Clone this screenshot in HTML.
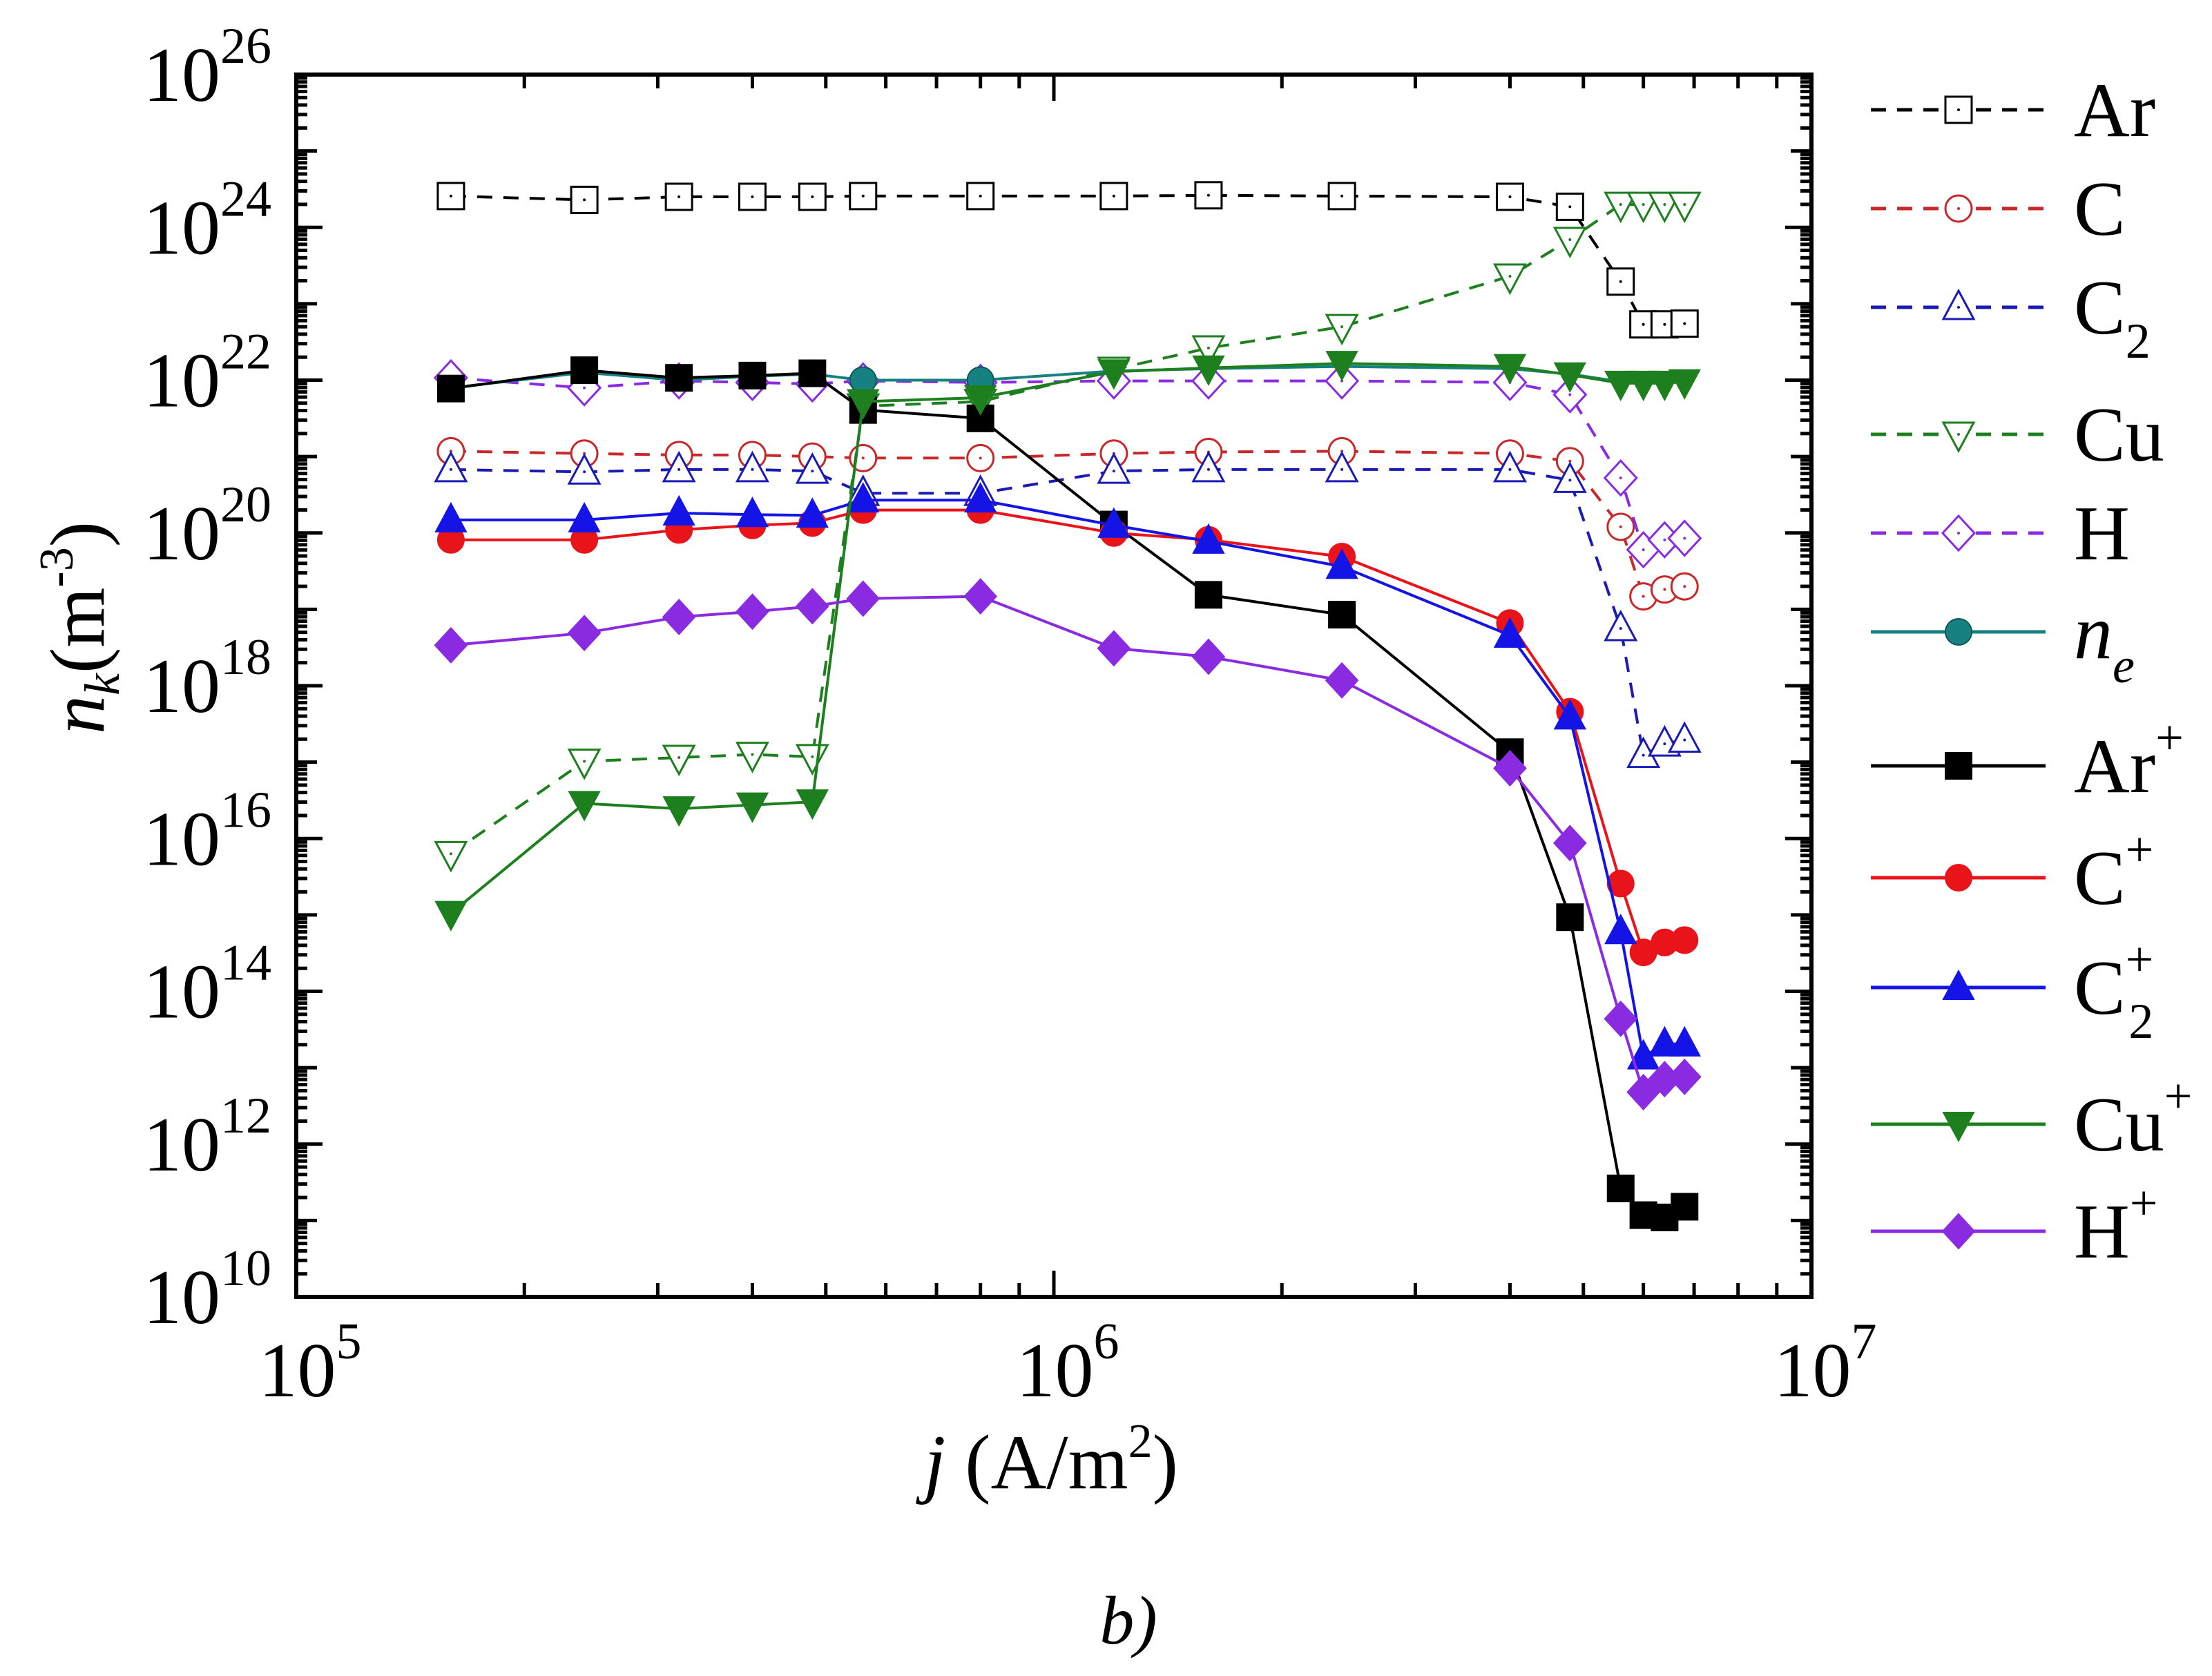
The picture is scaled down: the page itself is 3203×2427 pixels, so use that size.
<!DOCTYPE html>
<html><head><meta charset="utf-8"><style>
html,body{margin:0;padding:0;background:#fff;}
svg{display:block;font-family:"Liberation Serif",serif;}
</style></head><body>
<svg id="chart" width="3203" height="2427" viewBox="0 0 3203 2427" xmlns="http://www.w3.org/2000/svg">
<rect width="3203" height="2427" fill="#fff"/>
<g id="marks"></g>
<g id="axes"></g>
<g id="legend"></g>
<text transform="translate(150,909) rotate(-90)" text-anchor="middle" font-size="112"><tspan font-style="italic">n</tspan><tspan font-style="italic" font-size="72" dy="22">k</tspan><tspan dy="-22">(m</tspan><tspan font-size="70" dy="-45">-3</tspan><tspan dy="45">)</tspan></text>
<text x="1522" y="2155" text-anchor="middle" font-size="112"><tspan font-style="italic">j</tspan> (A/m<tspan font-size="70" dy="-45">2</tspan><tspan dy="45">)</tspan></text>
<text x="1634" y="2380" text-anchor="middle" font-size="100" font-style="italic">b)</text>
</svg>
<script>
const jValues = [1.6e5,2.4e5,3.2e5,4e5,4.8e5,5.6e5,8e5,1.2e6,1.6e6,2.4e6,4e6,4.8e6,5.6e6,6e6,6.4e6,6.8e6];
const logAr  = [24.41,24.36,24.40,24.40,24.40,24.41,24.41,24.41,24.42,24.41,24.40,24.27,23.29,22.73,22.73,22.74];
const logC   = [21.07,21.04,21.02,21.02,21.00,20.98,20.98,21.04,21.06,21.07,21.04,20.94,20.08,19.17,19.26,19.30];
const logC2  = [20.83,20.80,20.83,20.83,20.81,20.52,20.52,20.81,20.83,20.83,20.83,20.69,18.75,17.09,17.24,17.29];
const logCu  = [15.80,17.01,17.06,17.10,17.07,21.66,21.72,22.14,22.42,22.70,23.36,23.84,24.30,24.30,24.30,24.30];
const logH   = [22.03,21.90,21.99,21.97,21.95,21.99,21.97,21.99,21.99,21.99,21.97,21.81,20.72,19.78,19.91,19.93];
const logNe  = [21.90,22.10,22.00,22.05,22.08,22.00,22.00,22.12,22.15,22.18,22.15,22.08,21.98,21.98,21.98,21.99];
const logArp = [21.89,22.13,22.03,22.06,22.09,21.61,21.50,20.11,19.19,18.93,17.13,14.97,11.42,11.07,11.04,11.18];
const logCp  = [19.91,19.91,20.04,20.10,20.13,20.30,20.30,20.00,19.91,19.69,18.82,17.66,15.41,14.51,14.64,14.67];
const logC2p = [20.17,20.17,20.26,20.24,20.23,20.43,20.43,20.10,19.89,19.56,18.66,17.59,14.78,13.14,13.31,13.31];
const logCup = [15.02,16.46,16.39,16.44,16.48,21.72,21.77,22.11,22.16,22.22,22.18,22.07,21.96,21.96,21.96,21.98];
const logHp  = [18.53,18.69,18.90,18.97,19.04,19.14,19.17,18.49,18.38,18.07,16.92,15.94,13.64,12.68,12.85,12.88];
const yTickExps = [26,24,22,20,18,16,14,12,10];
const xTickExps = [5,6,7];

const L=429,R=2623,T=108,B=1878;
const xs = v => L + (Math.log10(v)-5)/2*(R-L);
const ys = lg => B - (lg-10)/16*(B-T);
const NS="http://www.w3.org/2000/svg";
function mk(tag,attrs,parent){const e=document.createElementNS(NS,tag);for(const k in attrs)e.setAttribute(k,attrs[k]);parent.appendChild(e);return e;}

const series=[
 {name:'Ar',data:logAr,color:'#000',dash:true,marker:'square',fill:false,label:'Ar'},
 {name:'C',data:logC,color:'#c8282a',dash:true,marker:'circle',fill:false,label:'C'},
 {name:'C2',data:logC2,color:'#1a1ab4',dash:true,marker:'tri',fill:false,label:'C',sub:'2'},
 {name:'Cu',data:logCu,color:'#1d7f1d',dash:true,marker:'dtri',fill:false,label:'Cu'},
 {name:'H',data:logH,color:'#8a2be2',dash:true,marker:'diamond',fill:false,label:'H'},
 {name:'ne',data:logNe,color:'#178080',dash:false,marker:'ball',fill:true,label:'n',sub:'e',italic:true},
 {name:'Ar+',data:logArp,color:'#000',dash:false,marker:'square',fill:true,label:'Ar',sup:'+'},
 {name:'C+',data:logCp,color:'#e8141a',dash:false,marker:'circle',fill:true,label:'C',sup:'+'},
 {name:'C2+',data:logC2p,color:'#1414e6',dash:false,marker:'tri',fill:true,label:'C',sup:'+',sub:'2'},
 {name:'Cu+',data:logCup,color:'#1d7f1d',dash:false,marker:'dtri',fill:true,label:'Cu',sup:'+'},
 {name:'H+',data:logHp,color:'#8a2be2',dash:false,marker:'diamond',fill:true,label:'H',sup:'+'}
];
function marker(g,type,cx,cy,color,fill,name){
 const f=fill?color:'#fff', sw=fill?2:3, s=19;
 let e;
 if(type==='square') e=mk('rect',{x:cx-s,y:cy-s,width:2*s,height:2*s,fill:f,stroke:color,'stroke-width':sw},g);
 else if(type==='circle') e=mk('circle',{cx:cx,cy:cy,r:s,fill:f,stroke:color,'stroke-width':sw},g);
 else if(type==='ball') e=mk('circle',{cx:cx,cy:cy,r:s,fill:color,stroke:'#0c5858','stroke-width':2},g);
 else if(type==='tri') e=mk('polygon',{points:`${cx},${cy-24} ${cx+22},${cy+17} ${cx-22},${cy+17}`,fill:f,stroke:color,'stroke-width':sw},g);
 else if(type==='dtri') e=mk('polygon',{points:`${cx},${cy+24} ${cx+22},${cy-17} ${cx-22},${cy-17}`,fill:f,stroke:color,'stroke-width':sw},g);
 else e=mk('polygon',{points:`${cx},${cy-25} ${cx+23},${cy} ${cx},${cy+25} ${cx-23},${cy}`,fill:f,stroke:color,'stroke-width':sw},g);
 
 
 if(!fill&&type!=='ball'){const d=mk('circle',{cx:cx,cy:cy,r:2,fill:color},g);}
}
const marks=document.getElementById('marks');
series.forEach(s=>{
 const g=mk('g',{},marks);
 
 
 const pts=s.data.map((v,i)=>xs(jValues[i]).toFixed(1)+','+ys(v).toFixed(1)).join(' ');
 const pl=mk('polyline',{points:pts,fill:'none',stroke:s.color,'stroke-width':4,'stroke-dasharray':s.dash?'22,16':'none'},g);
 
 
 s.data.forEach((v,i)=>{
  const show = s.name!=='ne' || (i===5||i===6);
  if(show) marker(g,s.marker,xs(jValues[i]),ys(v),s.color,s.fill,'point-'+s.name.toLowerCase().replace('+','-plus'));
 });
});
// axes
const ax=document.getElementById('axes');
const frame=mk('rect',{x:L,y:T,width:R-L,height:B-T,fill:'none',stroke:'#000','stroke-width':6},ax);


for(let d=10;d<26;d++){for(let m=1;m<10;m++){const y=ys(d+Math.log10(m));const len=m===1?(d%2===0?38:30):16;
 mk('line',{x1:L,y1:y,x2:L+len,y2:y,stroke:'#000','stroke-width':5},ax);
 mk('line',{x1:R,y1:y,x2:R-len,y2:y,stroke:'#000','stroke-width':5},ax);}}
for(let d=5;d<7;d++){for(let m=1;m<10;m++){const x=xs(m*Math.pow(10,d));const len=m===1?38:20;
 mk('line',{x1:x,y1:B,x2:x,y2:B-len,stroke:'#000','stroke-width':5},ax);
 mk('line',{x1:x,y1:T,x2:x,y2:T+len,stroke:'#000','stroke-width':5},ax);}}
yTickExps.forEach(e=>{
 const t=mk('text',{x:300,y:ys(e)+38,'text-anchor':'middle','font-size':112},ax);
 
 
 t.innerHTML='10<tspan font-size="74" dy="-55">'+e+'</tspan>';
});
xTickExps.forEach(e=>{
 const t=mk('text',{x:xs(Math.pow(10,e))+20,y:2022,'text-anchor':'middle','font-size':112},ax);
 
 
 t.innerHTML='10<tspan font-size="74" dy="-55">'+e+'</tspan>';
});
// legend
const lg=document.getElementById('legend');
const legY=[159,302,445,629,772,915,1109,1271,1430,1628,1783];
series.forEach((s,i)=>{
 const g=mk('g',{},lg);
 
 
 const y=legY[i];
 mk('line',{x1:2709,y1:y,x2:2962,y2:y,stroke:s.color,'stroke-width':5,'stroke-dasharray':s.dash?'22,16':'none'},g);
 marker(g,s.marker,2836,y,s.color,s.fill,'legend-marker');
 const t=mk('text',{x:3003,y:y+38,'font-size':112},g);
 let html=s.italic?'<tspan font-style="italic">'+s.label+'</tspan>':s.label;
 if(s.sup&&s.sub) html+='<tspan font-size="72" dy="-55">'+s.sup+'</tspan><tspan font-size="72" dx="-36" dy="90">'+s.sub+'</tspan>';
 else if(s.sup) html+='<tspan font-size="72" dy="-55">'+s.sup+'</tspan>';
 else if(s.sub) html+='<tspan font-size="72" dy="35"'+(s.italic?' font-style="italic"':'')+'>'+s.sub+'</tspan>';
 t.innerHTML=html;
});
</script>
</body></html>
